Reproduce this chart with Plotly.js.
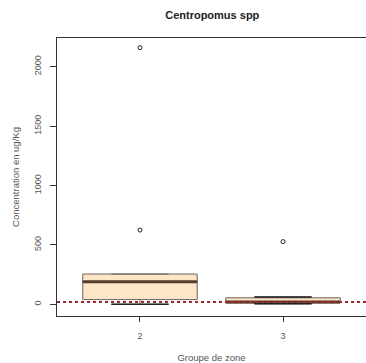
<!DOCTYPE html>
<html>
<head>
<meta charset="utf-8">
<script src="https://cdn.plot.ly/plotly-3.0.1.min.js"></script>
<style>html,body{margin:0;padding:0;background:#fff;}#chart{width:366px;height:363px;}</style>
</head>
<body>
<div id="chart"></div>
<script>
// Data
const groups = [2, 3];
const tickLabels = ['2', '3'];
const q1 = [40, 12];
const medians = [190, 20];
const q3 = [255, 55];
const lowerFence = [0, 5];
const upperFence = [255, 62];
const outlierX = [2, 2, 3];
const outlierY = [2160, 625, 528];
const threshold = 20;

const boxHalf = 0.4;
const fontFam = 'Liberation Sans, Arial, sans-serif';

const traces = [
  {
    type: 'box',
    x: groups,
    q1: q1, median: medians, q3: q3,
    lowerfence: lowerFence, upperfence: upperFence,
    width: 2 * boxHalf,
    whiskerwidth: 0.5,
    fillcolor: '#fde5c8',
    line: {color: '#6e6258', width: 1},
    boxpoints: false,
    hoverinfo: 'skip',
    showlegend: false
  },
  {
    type: 'scatter', mode: 'markers',
    x: outlierX, y: outlierY,
    marker: {symbol: 'circle-open', size: 4, color: '#222', line: {width: 1, color: '#222'}},
    showlegend: false, hoverinfo: 'skip'
  }
];

const shapes = [];
groups.forEach((g, i) => {
  shapes.push({type: 'line', xref: 'x', yref: 'y', x0: g - boxHalf, x1: g + boxHalf,
    y0: medians[i], y1: medians[i], line: {color: '#5a3a2c', width: 3}});
  shapes.push({type: 'line', xref: 'x', yref: 'y', x0: g - boxHalf / 2, x1: g + boxHalf / 2,
    y0: lowerFence[i], y1: lowerFence[i], line: {color: '#222', width: 1.5}});
  if (upperFence[i] > q3[i]) {
    shapes.push({type: 'line', xref: 'x', yref: 'y', x0: g - boxHalf / 2, x1: g + boxHalf / 2,
      y0: upperFence[i], y1: upperFence[i], line: {color: '#222', width: 1.5}});
  }
});
shapes.push({type: 'line', xref: 'paper', yref: 'y', x0: 0, x1: 1, y0: threshold, y1: threshold,
  line: {color: '#9e2a2e', width: 2, dash: 'dot'}});

const layout = {
  width: 366, height: 363,
  margin: {l: 57, r: 0, t: 38, b: 47},
  paper_bgcolor: '#fff', plot_bgcolor: '#fff',
  font: {family: fontFam, size: 9, color: '#555'},
  title: {text: '<b>Centropomus spp</b>', x: 0.58, xanchor: 'center', y: 0.957, yanchor: 'middle',
    font: {family: fontFam, size: 11, color: '#222', style: 'normal'}},
  xaxis: {
    range: [1.42, 3.58], tickvals: groups, ticktext: tickLabels,
    showgrid: false, zeroline: false,
    showline: true, mirror: true, linecolor: '#333', linewidth: 1,
    ticks: 'outside', ticklen: 5, tickcolor: '#333',
    ticklabelstandoff: 6,
    tickfont: {size: 9, color: '#555'},
    title: {text: 'Groupe de zone', font: {size: 9.5, color: '#555'}, standoff: 14}
  },
  yaxis: {
    range: [-98, 2241], tickvals: [0, 500, 1000, 1500, 2000],
    tickangle: -90,
    showgrid: false, zeroline: false,
    showline: true, linecolor: '#333', linewidth: 1,
    ticks: 'outside', ticklen: 6, tickcolor: '#333',
    ticklabelstandoff: 5,
    tickfont: {size: 9, color: '#555'},
    title: {text: 'Concentration en ug/Kg', font: {size: 9.5, color: '#555'}, standoff: 12}
  },
  shapes: shapes,
  showlegend: false
};

Plotly.newPlot('chart', traces, layout, {displayModeBar: false, staticPlot: true});
</script>
</body>
</html>
